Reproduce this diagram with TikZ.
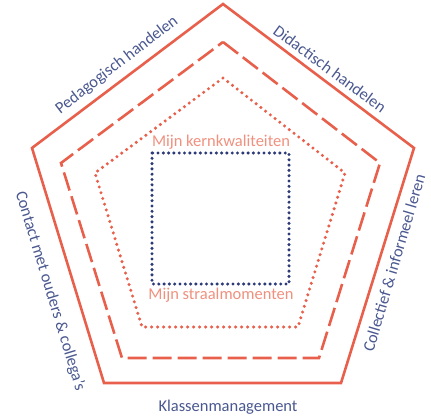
\documentclass[tikz,border=0pt]{standalone}
\usepackage{fontspec}
\setmainfont{Carlito}
\usetikzlibrary{positioning}
\definecolor{coral}{HTML}{E8604C}
\definecolor{salmon}{HTML}{F0907E}
\definecolor{slate}{HTML}{4A5890}
\definecolor{navy}{HTML}{2C3A78}
\tikzset{
  ring/.style={draw=coral,line width=2.6pt,line join=miter},
  dashring/.style={draw=coral,line width=2.6pt,dash pattern=on 19pt off 6pt},
  dotring/.style={draw=coral,line width=3.4pt,line cap=round,
                  dash pattern=on 0pt off 6pt},
  corebox/.style={draw=navy,line width=3.4pt,line cap=round,
                  dash pattern=on 0pt off 5.3pt},
  sidelabel/.style={font=\fontsize{16.5}{18}\selectfont,text=slate,inner sep=1pt},
  innerlabel/.style={font=\fontsize{16.5}{18}\selectfont,text=salmon,inner sep=1pt}
}
\begin{document}
\begin{tikzpicture}[x=1pt,y=-1pt]
  \path[use as bounding box] (0,0) rectangle (431,420);
  % three pentagon rings
  \draw[ring] (223,4) -- (414,148) -- (341,383) -- (104,383) -- (32,148) -- cycle;
  \draw[dashring] (223,42) -- (380,163) -- (319,358) -- (122,358) -- (61,163) -- cycle;
  \draw[dotring] (223,78) -- (345,173) -- (298,327) -- (142,327) -- (95,173) -- cycle;
  % core square
  \draw[corebox] (152,153) rectangle (289,284);
  \node[innerlabel] (kern) at (221,142) {Mijn kernkwaliteiten};
  \node[innerlabel] (straal) at (221,295) {Mijn straalmomenten};
  % side labels
  \node[sidelabel,rotate=37.6] (pedagogisch) at (117,65) {Pedagogisch handelen};
  \node[sidelabel,rotate=-36.4] (didactisch) at (330,69) {Didactisch handelen};
  \node[sidelabel,rotate=73.5] (collectief) at (394,263) {Collectief \& informeel leren};
  \node[sidelabel,rotate=-73] (contact) at (50,291) {Contact met ouders \& collega's};
  \node[sidelabel] (klassen) at (228,407) {Klassenmanagement};
\end{tikzpicture}
\end{document}
